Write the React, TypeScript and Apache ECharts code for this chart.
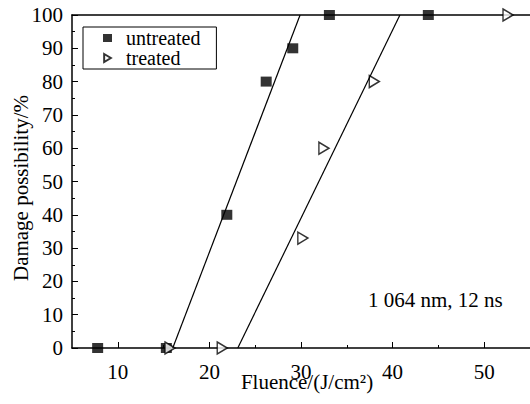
import React, { useEffect, useRef } from "react";
import * as echarts from "echarts";

const untreatedX = [7.8, 15.3, 21.9, 26.2, 29.1, 33.1, 43.9];
const untreatedY = [0, 0, 40, 80, 90, 100, 100];
const treatedX = [15.7, 21.4, 30.2, 32.5, 38.0, 52.6];
const treatedY = [0, 0, 33, 60, 80, 100];
const fitUntreatedX = [16.0, 29.9];
const fitUntreatedY = [0, 100];
const fitTreatedX = [23.1, 40.8];
const fitTreatedY = [0, 100];
const xMajorTicks = [10, 20, 30, 40, 50];
const xMinorTicks = [15, 25, 35, 45];

const FONT = "Liberation Serif";
const FS = 21;

function zip(xs: number[], ys: number[]) {
  return xs.map((x, i) => [x, ys[i]]);
}

export default function App() {
  const ref = useRef<HTMLDivElement>(null);
  useEffect(() => {
    const chart = echarts.init(ref.current!, null, { renderer: "svg" });
    const axisLine = { show: true, lineStyle: { color: "#000", width: 1.5 } };
    chart.setOption({
      animation: false,
      backgroundColor: "#fff",
      textStyle: { fontFamily: FONT, color: "#000" },
      grid: { left: 72, right: 0, top: 15, bottom: 56, containLabel: false, outerBoundsMode: "none" },
      legend: {
        left: 83,
        top: 27,
        orient: "vertical",
        padding: [1, 16, 1, 20],
        itemGap: 0,
        itemWidth: 9,
        itemHeight: 8,
        borderColor: "#000",
        borderWidth: 1,
        textStyle: { fontFamily: FONT, fontSize: 20, lineHeight: 20, color: "#000", padding: [0, 0, 0, 9] },
        data: ["untreated", "treated"],
      },
      xAxis: [
        {
          type: "value",
          min: 5,
          max: 55,
          position: "bottom",
          axisLine,
          splitLine: { show: false },
          axisTick: { show: true, inside: true, length: 6, customValues: xMajorTicks, lineStyle: { color: "#000" } },
          axisLabel: { customValues: xMajorTicks, fontFamily: FONT, fontSize: FS, color: "#000", margin: 13 },
        },
        {
          type: "value",
          min: 5,
          max: 55,
          position: "bottom",
          axisLine: { show: false },
          splitLine: { show: false },
          axisTick: { show: true, inside: true, length: 3, customValues: xMinorTicks, lineStyle: { color: "#000" } },
          axisLabel: { show: false },
        },
        {
          type: "value",
          min: 5,
          max: 55,
          position: "top",
          axisLine,
          splitLine: { show: false },
          axisTick: { show: false },
          axisLabel: { show: false },
        },
      ],
      yAxis: {
        type: "value",
        min: 0,
        max: 100,
        interval: 10,
        axisLine,
        splitLine: { show: false },
        axisTick: { show: true, inside: true, length: 6, lineStyle: { color: "#000" } },
        minorTick: { show: true, splitNumber: 2, length: 3, lineStyle: { color: "#000" } },
        axisLabel: { fontFamily: FONT, fontSize: FS, color: "#000", margin: 9 },
      },
      graphic: [
        {
          type: "text",
          left: 368,
          top: 289,
          style: { text: "1 064 nm, 12 ns", fontFamily: FONT, fontSize: FS, fill: "#000" },
        },
        {
          type: "text",
          x: 307,
          y: 382,
          style: {
            text: "Fluence/(J/cm²)",
            fontFamily: FONT,
            fontSize: FS,
            fill: "#000",
            align: "center",
            verticalAlign: "middle",
          },
        },
        {
          type: "text",
          x: 21,
          y: 188,
          rotation: Math.PI / 2,
          style: {
            text: "Damage possibility/%",
            fontFamily: FONT,
            fontSize: FS,
            fill: "#000",
            align: "center",
            verticalAlign: "middle",
          },
        },
      ],
      series: [
        {
          name: "fitU",
          type: "line",
          data: zip(fitUntreatedX, fitUntreatedY),
          symbol: "none",
          lineStyle: { color: "#000", width: 1.2 },
          silent: true,
        },
        {
          name: "fitT",
          type: "line",
          data: zip(fitTreatedX, fitTreatedY),
          symbol: "none",
          lineStyle: { color: "#000", width: 1.2 },
          silent: true,
        },
        {
          name: "untreated",
          type: "scatter",
          data: zip(untreatedX, untreatedY),
          symbol: "rect",
          symbolSize: [11, 10],
          itemStyle: { color: "#000" },
        },
        {
          name: "treated",
          type: "scatter",
          data: zip(treatedX, treatedY),
          symbol: "path://M0,0L10,6L0,12Z",
          symbolSize: [10, 12],
          itemStyle: { color: "#fff", borderColor: "#000", borderWidth: 1.5 },
        },
      ],
    });
    return () => chart.dispose();
  }, []);
  return (
    <div
      ref={ref}
      style={{ position: "absolute", left: 0, top: 0, width: 530, height: 404 }}
    />
  );
}
